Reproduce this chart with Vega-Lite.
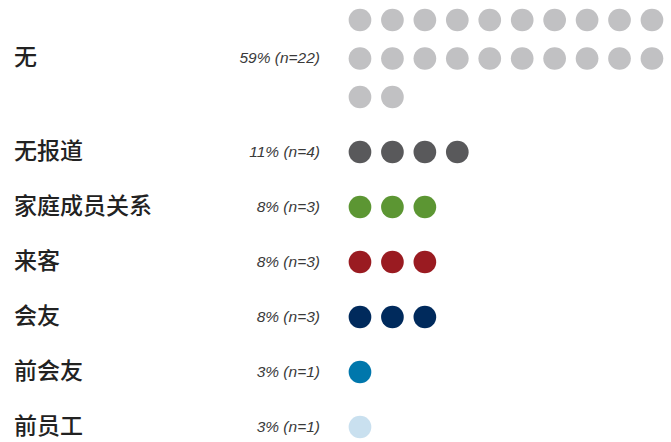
{
  "$schema": "https://vega.github.io/schema/vega-lite/v6.json",
  "width": 671,
  "height": 442,
  "padding": 0,
  "autosize": {"type": "fit", "contains": "padding"},
  "config": {"view": {"stroke": null}},
  "datasets": {
    "cats": [
      {"cat": "无", "rank": 0, "label": "59% (n=22)"},
      {"cat": "无报道", "rank": 1, "label": "11% (n=4)"},
      {"cat": "家庭成员关系", "rank": 2, "label": "8% (n=3)"},
      {"cat": "来客", "rank": 3, "label": "8% (n=3)"},
      {"cat": "会友", "rank": 4, "label": "8% (n=3)"},
      {"cat": "前会友", "rank": 5, "label": "3% (n=1)"},
      {"cat": "前员工", "rank": 6, "label": "3% (n=1)"}
    ],
    "dots": [
      {"cat": "无", "rank": 0, "col": 1, "row": 0},
      {"cat": "无", "rank": 0, "col": 2, "row": 0},
      {"cat": "无", "rank": 0, "col": 3, "row": 0},
      {"cat": "无", "rank": 0, "col": 4, "row": 0},
      {"cat": "无", "rank": 0, "col": 5, "row": 0},
      {"cat": "无", "rank": 0, "col": 6, "row": 0},
      {"cat": "无", "rank": 0, "col": 7, "row": 0},
      {"cat": "无", "rank": 0, "col": 8, "row": 0},
      {"cat": "无", "rank": 0, "col": 9, "row": 0},
      {"cat": "无", "rank": 0, "col": 10, "row": 0},
      {"cat": "无", "rank": 0, "col": 1, "row": 1},
      {"cat": "无", "rank": 0, "col": 2, "row": 1},
      {"cat": "无", "rank": 0, "col": 3, "row": 1},
      {"cat": "无", "rank": 0, "col": 4, "row": 1},
      {"cat": "无", "rank": 0, "col": 5, "row": 1},
      {"cat": "无", "rank": 0, "col": 6, "row": 1},
      {"cat": "无", "rank": 0, "col": 7, "row": 1},
      {"cat": "无", "rank": 0, "col": 8, "row": 1},
      {"cat": "无", "rank": 0, "col": 9, "row": 1},
      {"cat": "无", "rank": 0, "col": 10, "row": 1},
      {"cat": "无", "rank": 0, "col": 1, "row": 2},
      {"cat": "无", "rank": 0, "col": 2, "row": 2},
      {"cat": "无报道", "rank": 1, "col": 1, "row": 0},
      {"cat": "无报道", "rank": 1, "col": 2, "row": 0},
      {"cat": "无报道", "rank": 1, "col": 3, "row": 0},
      {"cat": "无报道", "rank": 1, "col": 4, "row": 0},
      {"cat": "家庭成员关系", "rank": 2, "col": 1, "row": 0},
      {"cat": "家庭成员关系", "rank": 2, "col": 2, "row": 0},
      {"cat": "家庭成员关系", "rank": 2, "col": 3, "row": 0},
      {"cat": "来客", "rank": 3, "col": 1, "row": 0},
      {"cat": "来客", "rank": 3, "col": 2, "row": 0},
      {"cat": "来客", "rank": 3, "col": 3, "row": 0},
      {"cat": "会友", "rank": 4, "col": 1, "row": 0},
      {"cat": "会友", "rank": 4, "col": 2, "row": 0},
      {"cat": "会友", "rank": 4, "col": 3, "row": 0},
      {"cat": "前会友", "rank": 5, "col": 1, "row": 0},
      {"cat": "前员工", "rank": 6, "col": 1, "row": 0}
    ]
  },
  "layer": [
    {
      "data": {"name": "dots"},
      "transform": [
        {"calculate": "datum.rank + (datum.rank > 0 ? 1.4 : 0) + datum.row * 0.7", "as": "ypos"}
      ],
      "mark": {"type": "circle", "size": 515, "opacity": 1},
      "encoding": {
        "x": {"field": "col", "type": "quantitative", "axis": null,
              "scale": {"domain": [-10.097, 10.587], "nice": false, "zero": false}},
        "y": {"field": "ypos", "type": "quantitative", "axis": null,
              "scale": {"domain": [-0.3636, 7.6727], "nice": false, "zero": false, "reverse": true}},
        "color": {"field": "cat", "type": "nominal", "legend": null,
                  "scale": {"domain": ["无", "无报道", "家庭成员关系", "来客", "会友", "前会友", "前员工"],
                            "range": ["#c1c1c3", "#59595b", "#5c9633", "#9a1b21", "#002a5c", "#0077ac", "#c9e0ef"]}}
      }
    },
    {
      "data": {"name": "cats"},
      "transform": [
        {"calculate": "datum.rank + (datum.rank > 0 ? 1.4 : 0.7)", "as": "ypos"}
      ],
      "mark": {"type": "text", "align": "left", "baseline": "middle", "font": "Noto Sans CJK SC",
               "fontSize": 23, "fontWeight": 500, "color": "#222222"},
      "encoding": {
        "x": {"datum": -9.666, "type": "quantitative"},
        "y": {"field": "ypos", "type": "quantitative"},
        "text": {"field": "cat"}
      }
    },
    {
      "data": {"name": "cats"},
      "transform": [
        {"calculate": "datum.rank + (datum.rank > 0 ? 1.4 : 0.7)", "as": "ypos"}
      ],
      "mark": {"type": "text", "align": "right", "baseline": "middle", "font": "Liberation Sans",
               "fontSize": 15.5, "fontStyle": "italic", "color": "#3a3a3a"},
      "encoding": {
        "x": {"datum": -0.233, "type": "quantitative"},
        "y": {"field": "ypos", "type": "quantitative"},
        "text": {"field": "label"}
      }
    }
  ]
}
